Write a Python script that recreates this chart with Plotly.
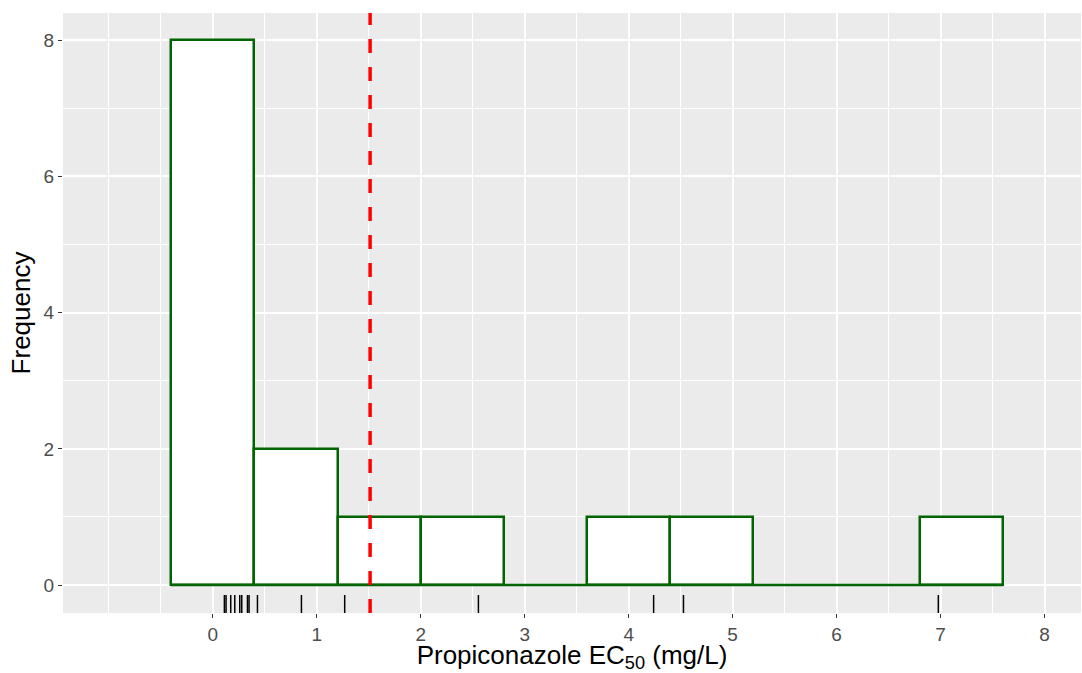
import numpy as np
import plotly.graph_objects as go

# EC50 values (mg/L) read from the rug
ec50 = [0.112, 0.128, 0.173, 0.212, 0.260, 0.279, 0.334, 0.349,
        0.430, 0.853, 1.269, 2.555, 4.240, 4.527, 6.978]
bin_start = -0.4
bin_end = 7.6
bin_size = 0.8
x_ticks = [0, 1, 2, 3, 4, 5, 6, 7, 8]
y_ticks = [0, 2, 4, 6, 8]

mean_val = float(np.mean(ec50))
green = "#006400"
font = "Liberation Sans, Arial, sans-serif"

fig = go.Figure()
fig.add_trace(go.Histogram(
    x=ec50,
    xbins=dict(start=bin_start, end=bin_end, size=bin_size),
    autobinx=False,
    marker=dict(color="white", line=dict(color=green, width=2.5)),
    showlegend=False, hoverinfo="skip",
))
# baseline (empty bins drawn as a flat line, as in ggplot)
fig.add_trace(go.Scatter(
    x=[bin_start, bin_end], y=[0, 0], mode="lines",
    line=dict(color=green, width=2.5), showlegend=False, hoverinfo="skip",
))

# rug
for v in ec50:
    fig.add_shape(type="line", xref="x", yref="y domain",
                  x0=v, x1=v, y0=0, y1=0.03,
                  line=dict(color="black", width=1.5))

# mean line
fig.add_shape(type="line", xref="x", yref="y domain",
              x0=mean_val, x1=mean_val, y0=0, y1=1,
              line=dict(color="#FF0000", width=3.5, dash="14px,14px"))

fig.update_layout(
    width=1082, height=673,
    margin=dict(l=63, r=1, t=13, b=60, autoexpand=False),
    paper_bgcolor="white", plot_bgcolor="#EBEBEB",
    bargap=0,
    font=dict(family=font, color="#4D4D4D", size=19),
    xaxis=dict(
        range=[-1.44, 8.35], tickvals=x_ticks, ticktext=[str(t) for t in x_ticks],
        showgrid=True, gridcolor="white", gridwidth=1.6,
        minor=dict(tick0=-1, dtick=0.5, showgrid=True, gridcolor="white", gridwidth=0.8, ticks=""),
        ticks="outside", ticklen=4, tickwidth=1, tickcolor="#333333",
        zeroline=False, showline=False, automargin=False,
        tickfont=dict(size=19, color="#4D4D4D"),
        title=dict(text="Propiconazole EC<sub>50</sub> (mg/L)",
                   font=dict(size=26, color="black"), standoff=3),
    ),
    yaxis=dict(
        range=[-0.41, 8.4], tickvals=y_ticks, ticktext=[str(t) for t in y_ticks],
        showgrid=True, gridcolor="white", gridwidth=1.6,
        minor=dict(tick0=1, dtick=1, showgrid=True, gridcolor="white", gridwidth=0.8, ticks=""),
        ticks="outside", ticklen=4, tickwidth=1, tickcolor="#333333",
        zeroline=False, showline=False, automargin=False,
        tickfont=dict(size=19, color="#4D4D4D"),
        title=dict(text="Frequency", font=dict(size=26, color="black"), standoff=5),
    ),
)

fig.write_html("out.html", config={"displayModeBar": False},
               post_script="document.body.style.margin='0';")
